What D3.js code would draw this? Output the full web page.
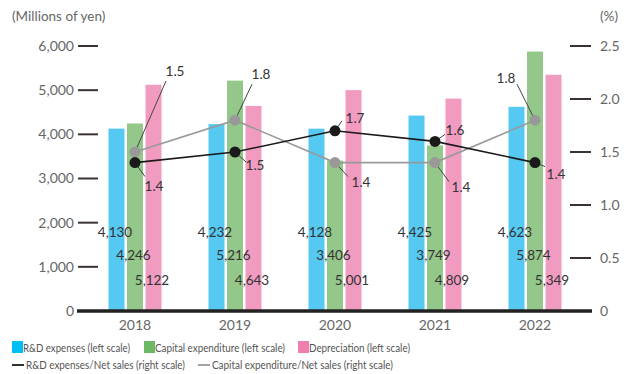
<!DOCTYPE html>
<html>
<head>
<meta charset="utf-8">
<script src="https://cdn.jsdelivr.net/npm/d3@7"></script>
<style>
  html, body { margin: 0; padding: 0; background: #fff; }
  svg { display: block; font-family: Lato, "Open Sans", sans-serif; }
</style>
</head>
<body>
<svg id="chart" width="626" height="374"></svg>
<script>
// Fiscal years
const years = ["2018", "2019", "2020", "2021", "2022"];

// Amounts, millions of yen (left scale)
const rdExpenses = [4130, 4232, 4128, 4425, 4623];
const capitalExpenditure = [4246, 5216, 3406, 3749, 5874];
const depreciation = [5122, 4643, 5001, 4809, 5349];

// Ratios to net sales, % (right scale)
const rdRatio = [1.4, 1.5, 1.7, 1.6, 1.4];
const capexRatio = [1.5, 1.8, 1.4, 1.4, 1.8];

// Axis ticks
const leftTicks = [0, 1000, 2000, 3000, 4000, 5000, 6000];
const rightTicks = [0, 0.5, 1.0, 1.5, 2.0, 2.5];

// Callout placement for each ratio label: label offset and leader end, relative to the point
const rdCallouts = [
  { dx: 19, dy: 24, lx: 10, ly: 14 },
  { dx: 20, dy: 13, lx: 11, ly: 10 },
  { dx: 20, dy: -13, lx: 7, ly: -10 },
  { dx: 20, dy: -11, lx: 10, ly: -7 },
  { dx: 21, dy: 12, lx: 10, ly: 4 }
];
const capexCallouts = [
  { dx: 40, dy: -81, lx: 31, ly: -71 },
  { dx: 26, dy: -46, lx: 17, ly: -36 },
  { dx: 26, dy: 20, lx: 13, ly: 14 },
  { dx: 26, dy: 25, lx: 14, ly: 19 },
  { dx: -29, dy: -42, lx: -18, ly: -36 }
];

const svg = d3.select("#chart");

const x = d3.scaleBand().domain(years).range([85, 585]).paddingInner(0).paddingOuter(0);
const yLeft = d3.scaleLinear().domain([0, 6000]).range([311, 46]);
const yRight = d3.scaleLinear().domain([0, 2.5]).range([311, 46]);

const barW = 16, barGap = 2.5;
const series = [
  { key: "rd", values: rdExpenses, color: "#55c9f2", offset: -1, labelY: 232 },
  { key: "capex", values: capitalExpenditure, color: "#94c78a", offset: 0, labelY: 255 },
  { key: "dep", values: depreciation, color: "#f29bc1", offset: 1, labelY: 280 }
];
const center = d => x(d) + x.bandwidth() / 2;
const fmt = d3.format(",");

// Axis titles
svg.append("text").attr("x", 12).attr("y", 21).attr("font-size", 13.5).attr("fill", "#666")
  .text("(Millions of yen)");
svg.append("text").attr("x", 600).attr("y", 21).attr("font-size", 13.5).attr("fill", "#666")
  .text("(%)");

// Left axis: short dashes with labels
const leftAxis = d3.axisLeft(yLeft).tickValues(leftTicks).tickSize(0).tickPadding(0)
  .tickFormat(d => fmt(d));
const gl = svg.append("g").attr("transform", "translate(74,0)").call(leftAxis);
gl.select(".domain").remove();
gl.selectAll("text").attr("font-size", 14).attr("fill", "#666").attr("font-family", "Lato, sans-serif");
svg.append("g").selectAll("line").data(leftTicks.filter(d => d > 0)).join("line")
  .attr("x1", 78).attr("x2", 98)
  .attr("y1", d => yLeft(d)).attr("y2", d => yLeft(d))
  .attr("stroke", "#3b3333").attr("stroke-width", 2);

// Right axis
const rightAxis = d3.axisRight(yRight).tickValues(rightTicks).tickSize(0).tickPadding(0)
  .tickFormat(d => d === 0 ? "0" : d3.format(".1f")(d));
const gr = svg.append("g").attr("transform", "translate(600,0)").call(rightAxis);
gr.select(".domain").remove();
gr.selectAll("text").attr("font-size", 14).attr("fill", "#666").attr("font-family", "Lato, sans-serif");
svg.append("g").selectAll("line").data(rightTicks.filter(d => d > 0)).join("line")
  .attr("x1", 570).attr("x2", 591)
  .attr("y1", d => yRight(d)).attr("y2", d => yRight(d))
  .attr("stroke", "#3b3333").attr("stroke-width", 2);

// Bars
series.forEach(s => {
  svg.append("g").selectAll("rect").data(years).join("rect")
    .attr("x", (d) => center(d) + s.offset * (barW + barGap) - barW / 2)
    .attr("width", barW)
    .attr("y", (d, i) => yLeft(s.values[i]))
    .attr("height", (d, i) => yLeft(0) - yLeft(s.values[i]))
    .attr("fill", s.color);
});

// Baseline
svg.append("line").attr("x1", 77).attr("x2", 592)
  .attr("y1", yLeft(0)).attr("y2", yLeft(0))
  .attr("stroke", "#222").attr("stroke-width", 3.5);

// Bar value labels
series.forEach(s => {
  svg.append("g").selectAll("text").data(years).join("text")
    .attr("x", d => center(d) + s.offset * (barW + barGap) - 1.5)
    .attr("y", s.labelY)
    .attr("dy", "0.35em")
    .attr("text-anchor", "middle")
    .attr("font-size", 13.5)
    .attr("fill", "#333")
    .text((d, i) => fmt(s.values[i]));
});

// Year labels
svg.append("g").selectAll("text").data(years).join("text")
  .attr("x", d => center(d))
  .attr("y", 325).attr("dy", "0.35em")
  .attr("text-anchor", "middle").attr("font-size", 14).attr("fill", "#666")
  .text(d => d);

// Ratio lines
const ratioLines = [
  { values: capexRatio, color: "#999", callouts: capexCallouts },
  { values: rdRatio, color: "#1a1a1a", callouts: rdCallouts }
];
const line = d3.line().x(d => center(d.year)).y(d => yRight(d.v));
ratioLines.forEach(r => {
  const pts = years.map((y, i) => ({ year: y, v: r.values[i], c: r.callouts[i] }));
  const g = svg.append("g");
  g.append("path").datum(pts).attr("d", line)
    .attr("fill", "none").attr("stroke", r.color).attr("stroke-width", 1.6);
  // leader lines
  g.selectAll("line.leader").data(pts).join("line").attr("class", "leader")
    .attr("x1", d => center(d.year)).attr("y1", d => yRight(d.v))
    .attr("x2", d => center(d.year) + d.c.lx).attr("y2", d => yRight(d.v) + d.c.ly)
    .attr("stroke", "#444").attr("stroke-width", 1);
  g.selectAll("circle").data(pts).join("circle")
    .attr("cx", d => center(d.year)).attr("cy", d => yRight(d.v))
    .attr("r", 5.5).attr("fill", r.color);
  g.selectAll("text").data(pts).join("text")
    .attr("x", d => center(d.year) + d.c.dx).attr("y", d => yRight(d.v) + d.c.dy)
    .attr("dy", "0.35em").attr("text-anchor", "middle")
    .attr("font-size", 13.5).attr("fill", "#333")
    .text(d => d3.format(".1f")(d.v));
});

// Legend
const legendBoxes = [
  { label: "R&D expenses (left scale)", color: "#00bff3", x: 12, w: 107 },
  { label: "Capital expenditure (left scale)", color: "#6db865", x: 144, w: 130 },
  { label: "Depreciation (left scale)", color: "#ee7fae", x: 298, w: 101 }
];
const legendLines = [
  { label: "R&D expenses/Net sales (right scale)", color: "#1a1a1a", x: 12, w: 159 },
  { label: "Capital expenditure/Net sales (right scale)", color: "#999", x: 198, w: 181 }
];
const lg = svg.append("g");
lg.selectAll("rect").data(legendBoxes).join("rect")
  .attr("x", d => d.x).attr("y", 341).attr("width", 11).attr("height", 12)
  .attr("fill", d => d.color);
lg.selectAll("text.box").data(legendBoxes).join("text").attr("class", "box")
  .attr("x", d => d.x + 11).attr("y", 348).attr("dy", "0.35em")
  .attr("textLength", d => d.w).attr("lengthAdjust", "spacingAndGlyphs")
  .attr("font-size", 12).attr("fill", "#555").text(d => d.label);
lg.selectAll("line").data(legendLines).join("line")
  .attr("x1", d => d.x).attr("x2", d => d.x + 12)
  .attr("y1", 365).attr("y2", 365)
  .attr("stroke", d => d.color).attr("stroke-width", 1.8);
lg.selectAll("text.ln").data(legendLines).join("text").attr("class", "ln")
  .attr("x", d => d.x + 14).attr("y", 365).attr("dy", "0.35em")
  .attr("textLength", d => d.w).attr("lengthAdjust", "spacingAndGlyphs")
  .attr("font-size", 12).attr("fill", "#555").text(d => d.label);
</script>
</body>
</html>
